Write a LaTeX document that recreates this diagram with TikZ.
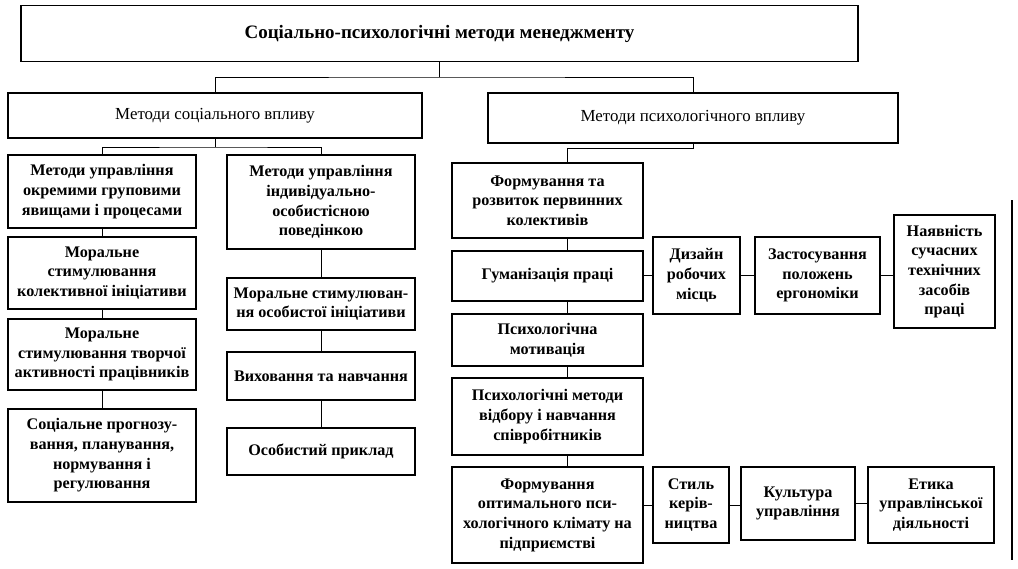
\documentclass[tikz,border=0pt]{standalone}
\usepackage{fontspec}
\setmainfont{Liberation Serif}
\usetikzlibrary{calc}
\usetikzlibrary{positioning}

\begin{document}
\begin{tikzpicture}[x=0.025cm,y=-0.025cm,
  box/.style 2 args={draw,line width=1.1pt,align=center,inner sep=1pt,
    minimum width=#1*0.025cm,minimum height=#2*0.025cm,
    font=\fontsize{11.5}{14}\selectfont\bfseries},
  head/.style={font=\fontsize{12}{14}\selectfont},
  link/.style={line width=0.7pt}]

  \useasboundingbox (0,0) rectangle (1018,568);

  % top levels
  \node[box={837}{56},font=\fontsize{13.5}{16}\selectfont\bfseries] (top) at (439.5,33.5)
    {Соціально-психологічні методи менеджменту};
  \node[box={414}{45},head] (soc) at (215,115.5) {Методи соціального впливу};
  \node[box={410}{50},head] (psy) at (693,118) {Методи психологічного впливу};

  \coordinate (j1) at (439.5,77);
  \draw[link] (top.south) -- (j1);
  \draw[link] (soc.north) |- (j1) -| (psy.north);

  % social methods
  \node[box={188}{73}] (grp) at (102,191.5)
    {Методи управління\\ окремими груповими\\ явищами і процесами};
  \node[box={188}{72}] (coll) at (102,273)
    {Моральне\\ стимулювання\\ колективної ініціативи};
  \node[box={188}{71}] (creat) at (102,354.5)
    {Моральне\\ стимулювання творчої\\ активності працівників};
  \node[box={188}{93}] (prog) at (102,455.5)
    {Соціальне прогнозу-\\вання, планування,\\ нормування і\\ регулювання};

  \node[box={188}{94}] (indiv) at (321,202)
    {Методи управління\\ індивідуально-\\особистісною\\ поведінкою};
  \node[box={188}{52}] (pers) at (321,304)
    {Моральне стимулюван-\\ня особистої ініціативи};
  \node[box={188}{48}] (edu) at (321,376) {Виховання та навчання};
  \node[box={188}{47}] (exmp) at (321,451.5) {Особистий приклад};

  \coordinate (j2) at (215,147);
  \draw[link] (soc.south) -- (j2);
  \draw[link] (grp.north) |- (j2) -| (indiv.north);
  \foreach \a/\b in {grp/coll,coll/creat,creat/prog,indiv/pers,pers/edu,edu/exmp}
    \draw[link] (\a.south) -- (\b.north);

  % psychological methods
  \node[box={191}{75}] (form) at (547.5,200.5)
    {Формування та\\ розвиток первинних\\ колективів};
  \node[box={191}{50}] (human) at (547.5,276) {Гуманізація праці};
  \node[box={191}{52}] (motiv) at (547.5,340) {Психологічна\\ мотивація};
  \node[box={191}{77}] (select) at (547.5,416.5)
    {Психологічні методи\\ відбору і навчання\\ співробітників};
  \node[box={191}{96}] (clim) at (547.5,515)
    {Формування\\ оптимального пси-\\хологічного клімату на\\ підприємстві};

  \coordinate (j3) at (693,148);
  \draw[link] (psy.south) -- (j3) -| ([xshift=0.5cm]form.north);
  \foreach \a/\b in {form/human,human/motiv,motiv/select,select/clim}
    \draw[link] ([xshift=0.5cm]\a.south) -- ([xshift=0.5cm]\b.north);

  \node[box={87}{77}] (dsgn) at (696.5,275.5) {Дизайн\\ робочих\\ місць};
  \node[box={125}{77}] (ergo) at (817.5,275.5) {Застосування\\ положень\\ ергономіки};
  \node[box={101}{113}] (tech) at (944.5,271.5)
    {Наявність\\ сучасних\\ технічних\\ засобів\\ праці};

  \draw[link] (human.east |- dsgn) -- (dsgn.west);
  \draw[link] (dsgn.east) -- (ergo.west);
  \draw[link] (ergo.east) -- (ergo.east -| tech.west);

  \node[box={76}{76}] (style) at (691,505) {Стиль\\ керів-\\ництва};
  \node[box={114}{73}] (cult) at (798,503.5) {Культура\\ управління};
  \node[box={126}{76}] (eth) at (931,505) {Етика\\ управлінської\\ діяльності};

  \draw[link] (clim.east |- style) -- (style.west);
  \draw[link] (style.east) -- (style.east -| cult.west);
  \draw[link] (cult.east) -- (cult.east -| eth.west);

  \draw[line width=1.2pt] (1012,200) -- (1012,560);

\end{tikzpicture}
\end{document}
